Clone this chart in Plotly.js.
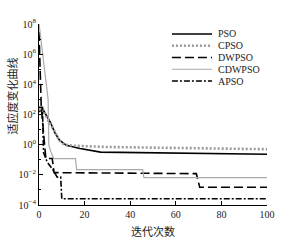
<!DOCTYPE html>
<html><head><meta charset="utf-8">
<script src="https://cdn.plot.ly/plotly-3.0.1.min.js"></script>
<style>html,body{margin:0;padding:0;background:#fff}#chart{width:293px;height:249px}</style>
</head><body><div id="chart"></div>
<script>
// ---- data ----
var seriesNames = ['PSO', 'CPSO', 'DWPSO', 'CDWPSO', 'APSO'];
var psoX    = [0, 1.5, 3, 5, 7, 9, 12, 18, 27, 50, 75, 100];
var psoY    = [150, 250, 100, 30, 6, 2, 0.9, 0.55, 0.32, 0.28, 0.25, 0.23];
var cpsoX   = [0, 1.5, 4, 6.6, 8.8, 11, 15, 30, 100];
var cpsoY   = [200, 250, 40, 9, 2, 1.0, 0.85, 0.7, 0.5];
var dwpsoX  = [0, 1, 3, 5.8, 6.6, 69, 70.5, 100];
var dwpsoY  = [3e7, 300, 0.12, 0.12, 0.014, 0.012, 0.0015, 0.0015];
var cdwpsoX = [0, 1, 2, 3, 4, 4.3, 5, 6.5, 16, 16.5, 45.5, 46, 100];
var cdwpsoY = [1.1e8, 5e6, 3e5, 2e4, 1e3, 1, 0.4, 0.12, 0.12, 0.022, 0.022, 0.0065, 0.0065];
var apsoX   = [0, 1.5, 2, 3.6, 5.8, 8, 9.5, 10, 100];
var apsoY   = [300, 300, 0.3, 0.07, 0.025, 0.007, 0.007, 0.00026, 0.00026];
var xTickVals = [0, 20, 40, 60, 80, 100];
var yTickVals = [1e-4, 1e-2, 1, 1e2, 1e4, 1e6, 1e8];
var yTickText = ['10<sup>−4</sup>', '10<sup>−2</sup>', '10<sup>0</sup>', '10<sup>2</sup>', '10<sup>4</sup>', '10<sup>6</sup>', '10<sup>8</sup>'];
var xTitle = '迭代次数';
var yTitle = '适应度变化曲线';

// ---- styles ----
var styles = [
  {color: '#000000', width: 1.6, dash: 'solid'},
  {color: '#9a9a9a', width: 2.6, dash: '2px,2px'},
  {color: '#000000', width: 1.6, dash: '9px,4px'},
  {color: '#aaaaaa', width: 1.2, dash: 'solid'},
  {color: '#000000', width: 1.6, dash: '6px,2px,2px,2px'}
];
var xs = [psoX, cpsoX, dwpsoX, cdwpsoX, apsoX];
var ys = [psoY, cpsoY, dwpsoY, cdwpsoY, apsoY];
var serif = 'Liberation Serif, Times New Roman, serif';
var cjk = 'Noto Sans CJK SC, sans-serif';

var traces = seriesNames.map(function (n, i) {
  return {x: xs[i], y: ys[i], name: n, type: 'scatter', mode: 'lines',
          line: {color: styles[i].color, width: styles[i].width, dash: styles[i].dash},
          showlegend: false, hoverinfo: 'skip'};
});

// manual legend (layout decoration)
var shapes = [], annotations = [];
var legX0 = 0.583, legX1 = 0.759, legTextX = 0.776, legY0 = 0.945, legStep = 0.065;
seriesNames.forEach(function (n, i) {
  var yy = legY0 - i * legStep;
  shapes.push({type: 'line', xref: 'paper', yref: 'paper', x0: legX0, x1: legX1, y0: yy, y1: yy,
               line: {color: styles[i].color, width: styles[i].width, dash: styles[i].dash}});
  annotations.push({xref: 'paper', yref: 'paper', x: legTextX, y: yy, xanchor: 'left', yanchor: 'middle',
                    text: n, showarrow: false, font: {family: serif, size: 10, color: '#222'}});
});
annotations.push({xref: 'paper', yref: 'paper', x: -0.118, y: 0.6, xanchor: 'center', yanchor: 'middle',
                  text: yTitle, textangle: -90, showarrow: false, font: {family: cjk, size: 11, color: '#222'}});

var layout = {
  width: 293, height: 249,
  margin: {l: 39, r: 26, t: 24, b: 44, pad: 0},
  paper_bgcolor: '#fff', plot_bgcolor: '#fff',
  font: {family: serif, size: 10, color: '#222'},
  xaxis: {range: [0, 100], tickvals: xTickVals, ticks: 'inside', ticklen: 4, tickcolor: '#000',
          showline: true, linecolor: '#000', linewidth: 1, showgrid: false, zeroline: false,
          tickfont: {family: serif, size: 10, color: '#222'},
          title: {text: xTitle, font: {family: cjk, size: 11, color: '#222'}, standoff: 9}},
  yaxis: {type: 'log', range: [-4, 8], tickvals: yTickVals, ticktext: yTickText, ticks: 'inside', ticklen: 4,
          tickcolor: '#000', showline: true, linecolor: '#000', linewidth: 1, showgrid: false, zeroline: false,
          minor: {ticks: 'inside', ticklen: 2, dtick: 1, tickcolor: '#000', showgrid: false},
          tickfont: {family: serif, size: 10, color: '#222'}},
  shapes: shapes, annotations: annotations, showlegend: false
};
Plotly.newPlot('chart', traces, layout, {staticPlot: true, displayModeBar: false});
</script></body></html>
